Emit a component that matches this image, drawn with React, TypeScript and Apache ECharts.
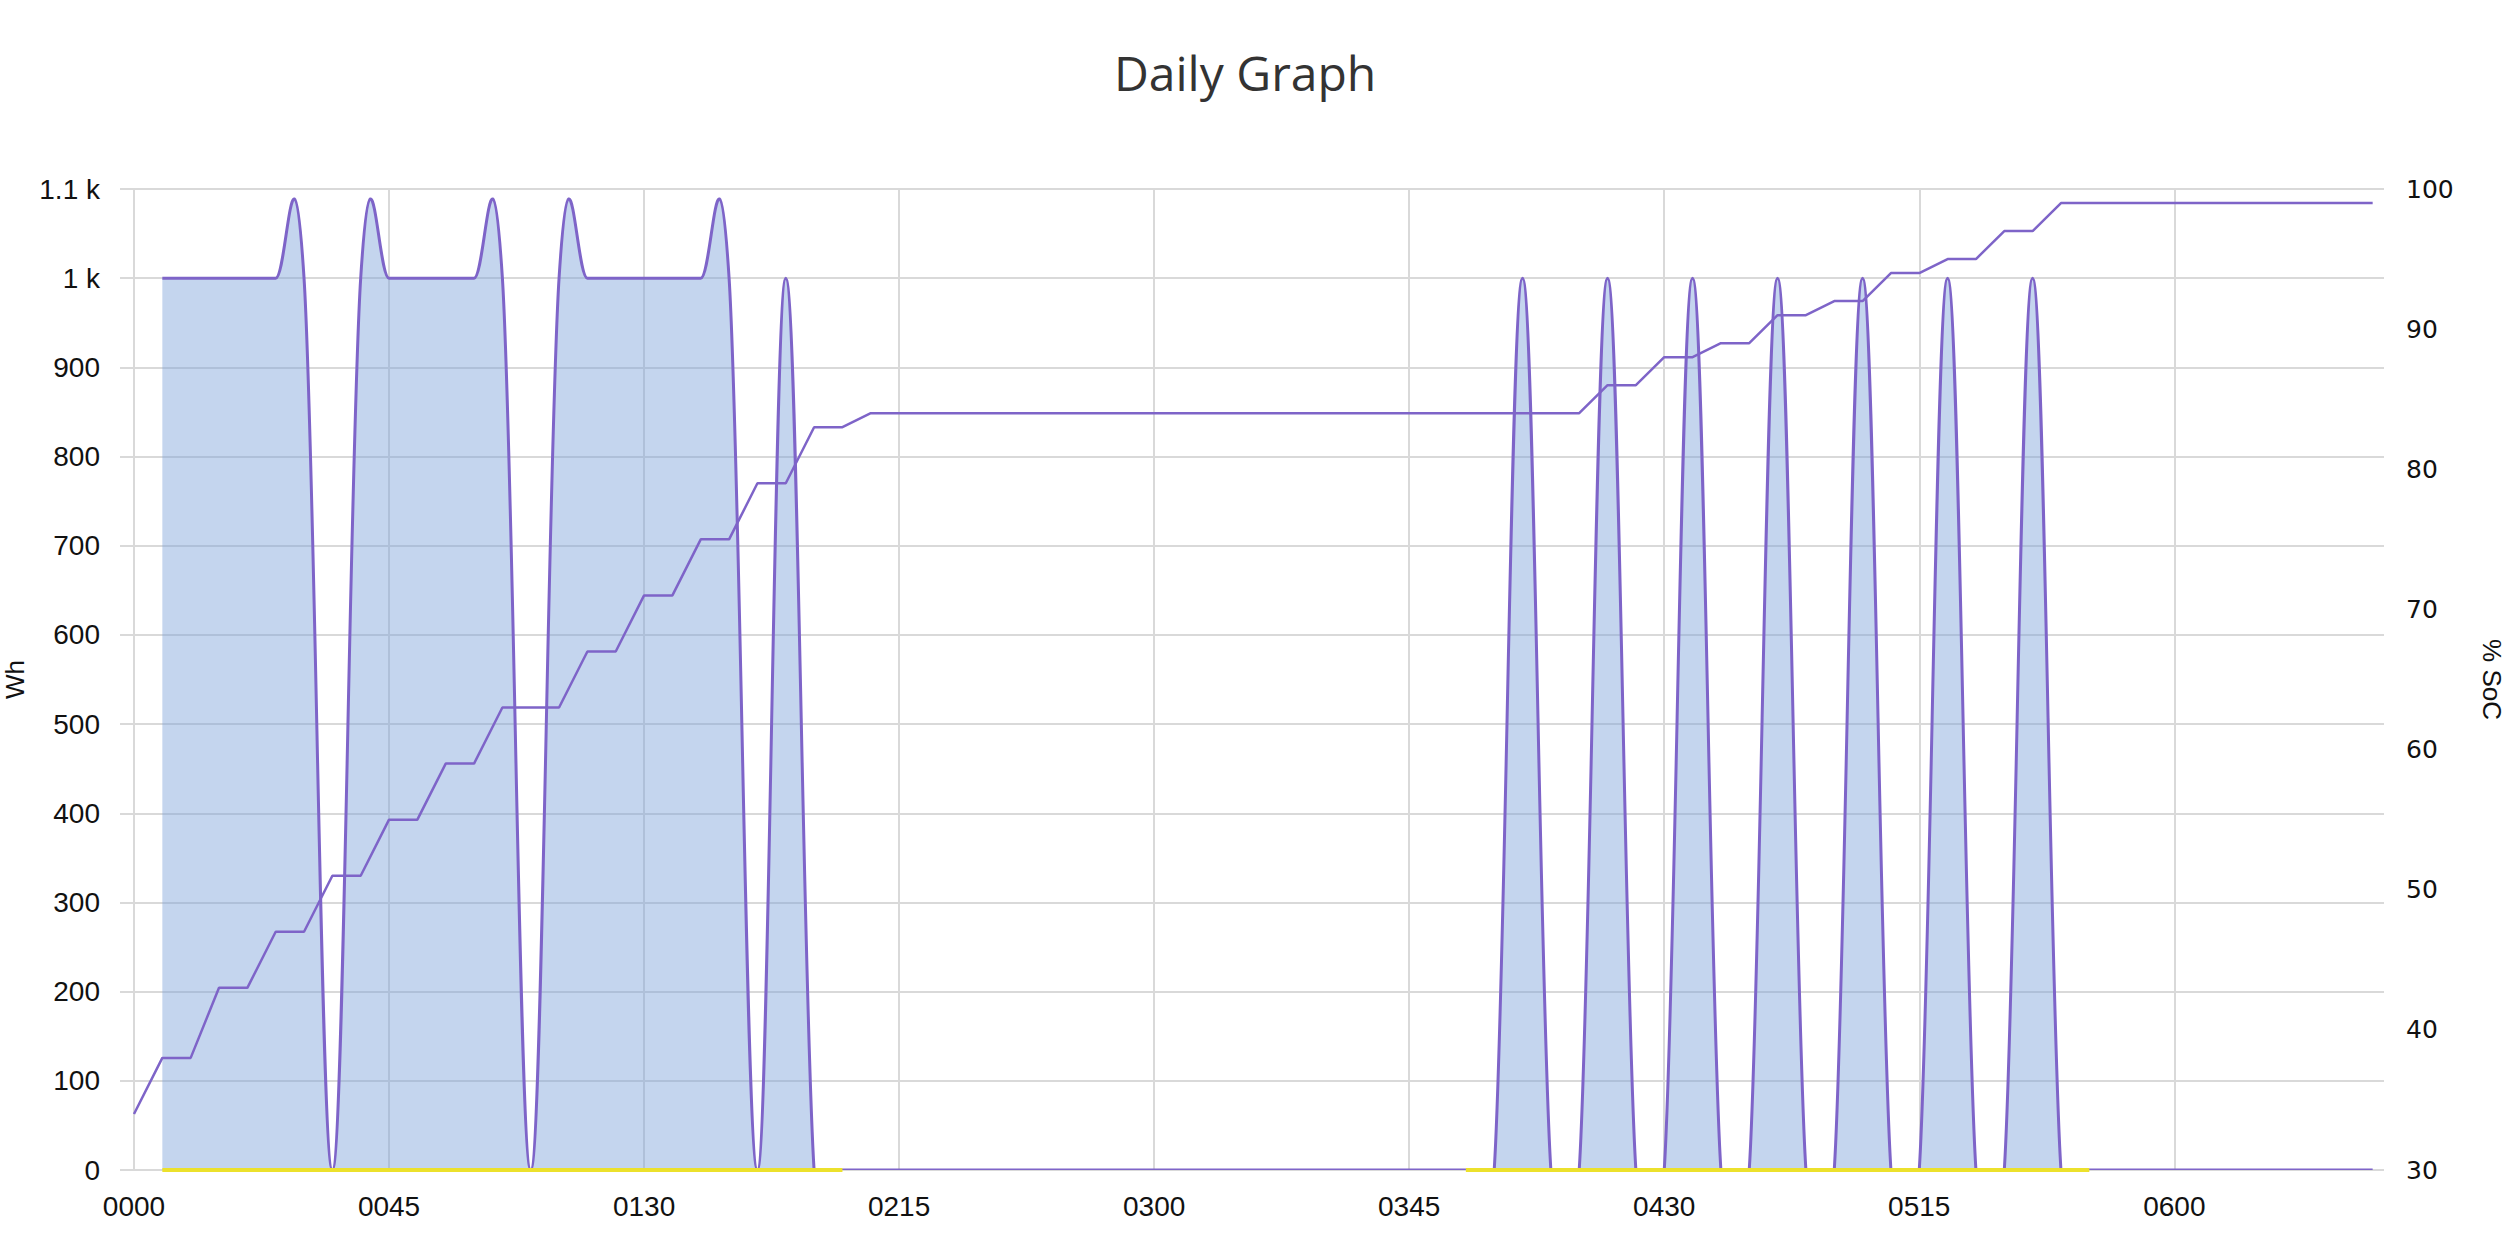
import React, { useEffect, useRef } from 'react';
import * as echarts from 'echarts';

// 5-minute timeline
const timeLabels = [
  '0000', '0005', '0010', '0015', '0020', '0025', '0030', '0035', '0040', '0045', '0050', '0055',
  '0100', '0105', '0110', '0115', '0120', '0125', '0130', '0135', '0140', '0145', '0150', '0155',
  '0200', '0205', '0210', '0215', '0220', '0225', '0230', '0235', '0240', '0245', '0250', '0255',
  '0300', '0305', '0310', '0315', '0320', '0325', '0330', '0335', '0340', '0345', '0350', '0355',
  '0400', '0405', '0410', '0415', '0420', '0425', '0430', '0435', '0440', '0445', '0450', '0455',
  '0500', '0505', '0510', '0515', '0520', '0525', '0530', '0535', '0540', '0545', '0550', '0555',
  '0600', '0605', '0610', '0615', '0620', '0625', '0630', '0635',
];

// Energy (Wh), left axis
const whValues: (number | null)[] = [
  null, 1000, 1000, 1000, 1000, 1000, 1000, 0, 1000, 1000, 1000, 1000,
  1000, 1000, 0, 1000, 1000, 1000, 1000, 1000, 1000, 1000, 0, 1000,
  0, 0, 0, 0, 0, 0, 0, 0, 0, 0, 0, 0,
  0, 0, 0, 0, 0, 0, 0, 0, 0, 0, 0, 0,
  0, 1000, 0, 0, 1000, 0, 0, 1000, 0, 0, 1000, 0,
  0, 1000, 0, 0, 1000, 0, 0, 1000, 0, 0, 0, 0,
  0, 0, 0, 0, 0, 0, 0, 0,
];

// Yellow zero-level series (gaps where not reported)
const gridValues: (number | null)[] = [
  null, 0, 0, 0, 0, 0, 0, 0, 0, 0, 0, 0,
  0, 0, 0, 0, 0, 0, 0, 0, 0, 0, 0, 0,
  0, 0, null, null, null, null, null, null, null, null, null, null,
  null, null, null, null, null, null, null, null, null, null, null, 0,
  0, 0, 0, 0, 0, 0, 0, 0, 0, 0, 0, 0,
  0, 0, 0, 0, 0, 0, 0, 0, 0, 0, null, null,
  null, null, null, null, null, null, null, null,
];

// State of charge (%), right axis
const socValues = [
  34, 38, 38, 43, 43, 47, 47, 51, 51, 55, 55, 59,
  59, 63, 63, 63, 67, 67, 71, 71, 75, 75, 79, 79,
  83, 83, 84, 84, 84, 84, 84, 84, 84, 84, 84, 84,
  84, 84, 84, 84, 84, 84, 84, 84, 84, 84, 84, 84,
  84, 84, 84, 84, 86, 86, 88, 88, 89, 89, 91, 91,
  92, 92, 94, 94, 95, 95, 97, 97, 99, 99, 99, 99,
  99, 99, 99, 99, 99, 99, 99, 99,
];

const xTickLabels = ['0000', '0045', '0130', '0215', '0300', '0345', '0430', '0515', '0600'];

const PURPLE = '#7e64c8';
const FILL = 'rgba(124,162,218,0.45)';
const YELLOW = '#ece12c';
const GRID = '#d9d9d9';
const FONT = 'Liberation Sans';

const toMin = (s: string) => parseInt(s.slice(0, 2), 10) * 60 + parseInt(s.slice(2), 10);
const toLabel = (m: number) => {
  const h = Math.floor(m / 60);
  const mm = Math.round(m - h * 60);
  return String(h).padStart(2, '0') + String(mm).padStart(2, '0');
};

export default function App() {
  const ref = useRef<HTMLDivElement>(null);

  useEffect(() => {
    document.body.style.margin = '0';
    document.body.style.overflow = 'hidden';
    const chart = echarts.init(ref.current!, null, { renderer: 'svg' });

    const mins = timeLabels.map(toMin);
    const whPts: number[][] = [];
    mins.forEach((m, i) => {
      const v = whValues[i];
      if (v != null) whPts.push([m, v]);
    });
    const gridPts = mins.map((m, i) => [m, gridValues[i] == null ? '-' : gridValues[i]]);
    const socPts = mins.map((m, i) => [m, socValues[i]]);
    const tickSet = new Set(xTickLabels.map(toMin));

    const renderItem = (params: any, api: any) => {
      if (params.dataIndex !== 0) return null;
      const xs = whPts.map((p) => p[0]);
      const ys = whPts.map((p) => p[1]);
      const n = xs.length;
      const left: number[][] = [];
      const right: number[][] = [];
      const smoothing = 1.5;
      const denom = smoothing + 1;
      for (let i = 0; i < n; i++) {
        if (i > 0 && i < n - 1) {
          const lx = (smoothing * xs[i] + xs[i - 1]) / denom;
          const ly = (smoothing * ys[i] + ys[i - 1]) / denom;
          const rx = (smoothing * xs[i] + xs[i + 1]) / denom;
          const ry = (smoothing * ys[i] + ys[i + 1]) / denom;
          let corr = 0;
          if (rx !== lx) corr = ((ry - ly) * (rx - xs[i])) / (rx - lx) + ys[i] - ry;
          left[i] = [lx, ly + corr];
          right[i] = [rx, ry + corr];
        } else {
          left[i] = [xs[i], ys[i]];
          right[i] = [xs[i], ys[i]];
        }
      }
      const c = (p: number[]) => {
        const q = api.coord(p);
        return q[0].toFixed(2) + ',' + q[1].toFixed(2);
      };
      let d = 'M' + c([xs[0], ys[0]]);
      for (let i = 1; i < n; i++) {
        d += ' C' + c(right[i - 1]) + ' ' + c(left[i]) + ' ' + c([xs[i], ys[i]]);
      }
      const area = d + ' L' + c([xs[n - 1], 0]) + ' L' + c([xs[0], 0]) + ' Z';
      return {
        type: 'group',
        children: [
          { type: 'path', shape: { pathData: area }, style: { fill: FILL, stroke: 'none' } },
          {
            type: 'path',
            shape: { pathData: d },
            style: { fill: 'none', stroke: PURPLE, lineWidth: 3, lineJoin: 'round' },
          },
        ],
      };
    };

    const option: any = {
      animation: false,
      backgroundColor: '#ffffff',
      title: {
        text: 'Daily Graph',
        left: 1109,
        top: 43,
        textStyle: { fontFamily: 'Open Sans', fontSize: 48, fontWeight: 'normal', color: '#333333' },
      },
      grid: { left: 134, right: 134, top: 189, bottom: 70, outerBoundsMode: 'none', containLabel: false },
      xAxis: {
        type: 'value',
        min: 0,
        max: 397,
        interval: 45,
        axisLine: { show: false },
        axisTick: { show: false },
        axisLabel: {
          margin: 22,
          fontFamily: FONT,
          fontSize: 28,
          color: '#111111',
          formatter: (v: number) => (tickSet.has(v) ? toLabel(v) : ''),
        },
        splitLine: {
          show: true,
          lineStyle: {
            width: 2,
            color: [GRID, GRID, GRID, GRID, GRID, GRID, GRID, GRID, GRID, 'rgba(0,0,0,0)'],
          },
        },
      },
      yAxis: [
        {
          type: 'value',
          min: 0,
          max: 1100,
          interval: 100,
          name: 'Wh',
          nameLocation: 'middle',
          nameGap: 98,
          nameTextStyle: { fontFamily: FONT, fontSize: 26, color: '#111111' },
          axisLine: { show: false },
          axisTick: { show: true, length: 14, lineStyle: { color: GRID, width: 2 } },
          axisLabel: {
            margin: 34,
            fontFamily: FONT,
            fontSize: 28,
            color: '#111111',
            formatter: (v: number) => (v >= 1000 ? String(v / 1000) + ' k' : String(v)),
          },
          splitLine: { show: true, lineStyle: { color: GRID, width: 2 } },
        },
        {
          type: 'value',
          min: 30,
          max: 100,
          interval: 10,
          position: 'right',
          name: '% SoC',
          nameLocation: 'middle',
          nameRotate: -90,
          nameGap: 95,
          nameTextStyle: { fontFamily: FONT, fontSize: 26, color: '#111111' },
          axisLine: { show: false },
          axisTick: { show: false },
          axisLabel: { margin: 22, fontFamily: 'DejaVu Sans', fontSize: 25, color: '#111111' },
          splitLine: { show: false },
        },
      ],
      series: [
        {
          name: 'Wh',
          type: 'custom',
          coordinateSystem: 'cartesian2d',
          xAxisIndex: 0,
          yAxisIndex: 0,
          clip: true,
          encode: { x: 0, y: 1 },
          data: whPts,
          renderItem,
          silent: true,
        },
        {
          name: 'Grid',
          type: 'line',
          xAxisIndex: 0,
          yAxisIndex: 0,
          data: gridPts,
          showSymbol: false,
          symbol: 'none',
          connectNulls: false,
          clip: false,
          lineStyle: { color: YELLOW, width: 4 },
          itemStyle: { color: YELLOW },
          silent: true,
          z: 4,
        },
        {
          name: '% SoC',
          type: 'line',
          xAxisIndex: 0,
          yAxisIndex: 1,
          data: socPts,
          showSymbol: false,
          symbol: 'none',
          lineStyle: { color: PURPLE, width: 2.5 },
          itemStyle: { color: PURPLE },
          silent: true,
          z: 5,
        },
      ],
    };

    chart.setOption(option);
    return () => chart.dispose();
  }, []);

  return <div ref={ref} style={{ width: 2518, height: 1240 }} />;
}
